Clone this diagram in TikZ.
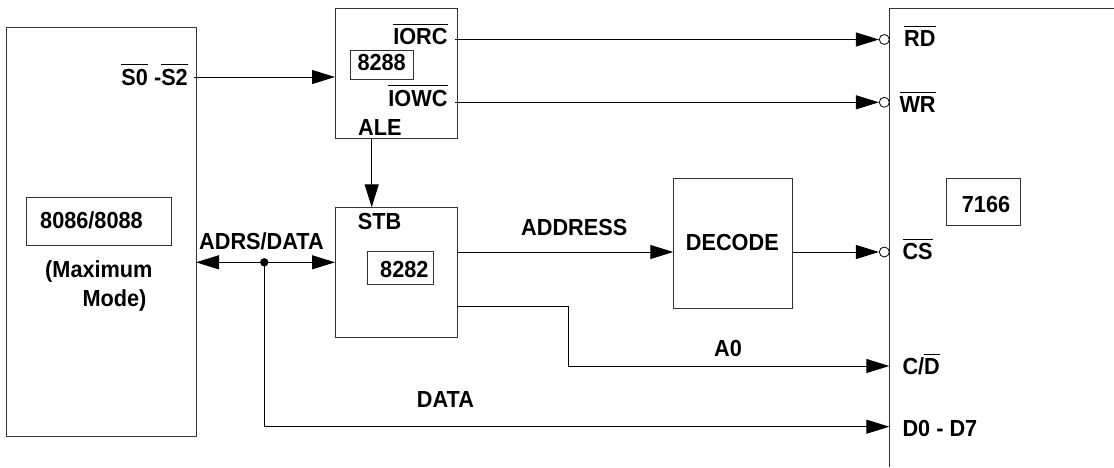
\documentclass[tikz,border=0pt]{standalone}
\usepackage{fontspec}
\setmainfont{Liberation Sans}
\usetikzlibrary{arrows.meta}
\newcommand\lblfont{\fontsize{21.7}{26}\selectfont\bfseries}
\newcommand\ovl[1]{\leavevmode\vbox{\hrule height 0.9pt\kern3.3pt\hbox{#1}}}
\newcommand\T[1]{\scalebox{1}[1.07]{#1}}
\tikzset{
  blk/.style={draw=black!80, line width=1pt, inner sep=0pt, anchor=north west},
  lbl/.style={inner sep=0pt, font=\lblfont, anchor=base west},
  lble/.style={inner sep=0pt, font=\lblfont, anchor=base east},
  conn/.style={line width=1pt, -{Triangle[length=23pt,width=14pt]}},
  bub/.style={circle, draw, line width=0.8pt, fill=white, inner sep=0pt, minimum size=10pt},
}
\begin{document}
\begin{tikzpicture}[x=1pt,y=-1pt]
\useasboundingbox (0,0) rectangle (1114,467);
% boxes
\node[blk, minimum width=190, minimum height=409] (cpu) at (6,27) {};
\node[blk, minimum width=145.3, minimum height=48.6] (cpuin) at (25.7,196.7) {};
\node[blk, minimum width=121.7, minimum height=129.4] (b8288) at (335,8.3) {};
\node[blk, minimum width=62.7, minimum height=28.7] (i8288) at (350,50) {};
\node[blk, minimum width=121.7, minimum height=129.4] (b8282) at (335,207.3) {};
\node[blk, minimum width=66, minimum height=33.3] (i8282) at (366.7,251) {};
\node[blk, minimum width=118.4, minimum height=130] (dec) at (673.3,178.3) {};
\node[blk, minimum width=74, minimum height=46.7] (i7166) at (946,178) {};
% memory chip outline (extends past the picture)
\coordinate (memtl) at (889.3,8.3);
\coordinate (membl) at (889.3,467);
\coordinate (memtr) at (1114,8.3);
\draw[line width=1pt, draw=black!80] (membl) -- (memtl) -- (memtr);
% labels
\node[lble] (s02) at (188,85) {\T{\ovl{S0} -\ovl{S2}}};
\node[lble] (iorc) at (447.7,44.7) {\T{\ovl{IORC}}};
\node[lble] (iowc) at (447.7,106) {\T{\ovl{IOWC}}};
\node[lbl] (ale) at (358,135) {\T{ALE}};
\node[lbl] (t8288) at (357.3,70.7) {\T{8288}};
\node[lbl] (stb) at (357.7,229.3) {\T{STB}};
\node[lbl] (t8086) at (40,228.3) {\T{8086/8088}};
\node[lbl] (tmax) at (45,277.5) {\T{(Maximum}};
\node[lbl] (tmode) at (82.3,306.7) {\T{Mode)}};
\node[lbl] (adrs) at (199,249.3) {\T{ADRS/DATA}};
\node[lbl] (t8282) at (380,277.3) {\T{8282}};
\node[lbl] (addr) at (521,235) {\T{ADDRESS}};
\node[lbl] (tdec) at (685.7,250.7) {\T{DECODE}};
\node[lbl] (rd) at (904,46.5) {\T{\ovl{RD}}};
\node[lbl] (wr) at (899.3,112.7) {\T{\ovl{WR}}};
\node[lbl] (cs) at (902.3,259.3) {\T{\ovl{CS}}};
\node[lbl] (cd) at (902.3,374.3) {\T{C/\ovl{D}}};
\node[lbl] (d07) at (902.3,436.7) {\T{D0 - D7}};
\node[lbl] (a0) at (714,356.7) {\T{A0}};
\node[lbl] (data) at (416.7,407.3) {\T{DATA}};
\node[lbl] (t7166) at (961.7,212) {\T{7166}};
% bubbles
\node[bub] (rdb) at (884.3,39.5) {};
\node[bub] (wrb) at (884.3,102.3) {};
\node[bub] (csb) at (884.3,252) {};
% connection points
\coordinate (s02o) at (194,77);
\coordinate (iorco) at (455,39.5);
\coordinate (iowco) at (455,102.3);
\coordinate (aleo) at (371.7,137.7);
\coordinate (addro) at (456.7,252);
\coordinate (a0o) at (456.7,306);
\coordinate (a0k1) at (568.3,306);
\coordinate (a0k2) at (568.3,366);
\coordinate (cdin) at (889.3,366);
\coordinate (dinp) at (889.3,426.7);
\coordinate (bus) at (264.3,262.3);
\coordinate (busl) at (196,262.3);
\coordinate (busr) at (335,262.3);
\coordinate (datak) at (264.3,426.7);
% connectors
\draw[conn] (s02o) -- (s02o -| b8288.west);
\draw[conn] (iorco) -- (rdb.west);
\draw[conn] (iowco) -- (wrb.west);
\draw[conn] (aleo) -- (aleo |- b8282.north);
\draw[conn] (addro) -- (addro -| dec.west);
\draw[conn] (dec.east |- csb) -- (csb.west);
\draw[conn] (a0o) -- (a0k1) -- (a0k2) -- (cdin);
\draw[line width=1pt, {Triangle[length=23pt,width=14pt]}-{Triangle[length=23pt,width=14pt]}] (busl) -- (busr);
\draw[conn] (bus) -- (datak) -- (dinp);
\fill (bus) circle (4.2pt);
\end{tikzpicture}
\end{document}
